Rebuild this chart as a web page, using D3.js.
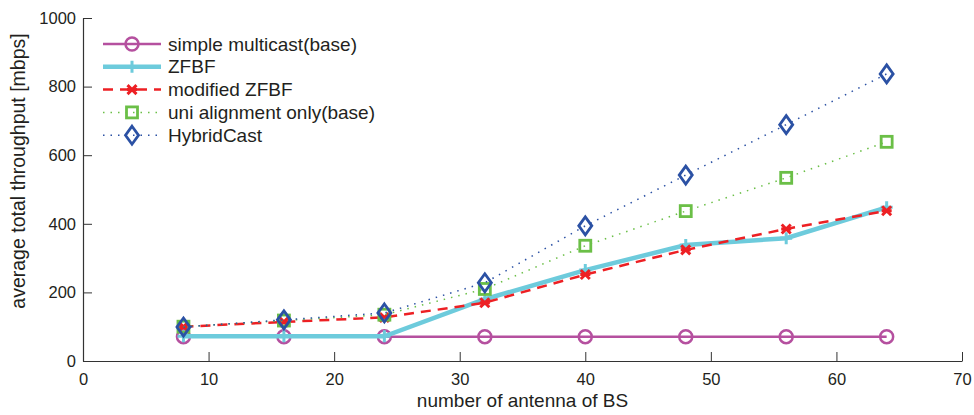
<!DOCTYPE html>
<html>
<head>
<meta charset="utf-8">
<script src="https://cdn.jsdelivr.net/npm/d3@7"></script>
<style>
  body { margin: 0; background: #fff; }
  text { font-family: "Liberation Sans", Arial, sans-serif; fill: #231f20; }
</style>
</head>
<body>
<div id="container"></div>
<script>
/* CONSTANTS AND GLOBALS */
const width = 974,
  height = 415,
  margin = { top: 18, bottom: 54, left: 83, right: 12 };

// DATA
const antennas = [8, 16, 24, 32, 40, 48, 56, 64];
const simpleMulticast = [71, 71, 71, 71, 71, 71, 71, 71];
const zfbf = [72, 72, 72, 180, 265, 338, 358, 448];
const modifiedZfbf = [100, 114, 127, 170, 252, 324, 385, 438];
const uniAlignment = [100, 118, 135, 210, 336, 437, 534, 639];
const hybridCast = [99, 120, 140, 228, 394, 542, 689, 837];
const xTicks = [0, 10, 20, 30, 40, 50, 60, 70];
const yTicks = [0, 200, 400, 600, 800, 1000];

const series = [
  { name: "simple multicast(base)", values: simpleMulticast, color: "#b5509f", width: 2.5, dash: null, marker: "circle" },
  { name: "ZFBF", values: zfbf, color: "#6dcbdc", width: 4.5, dash: null, marker: "plus" },
  { name: "modified ZFBF", values: modifiedZfbf, color: "#ed2024", width: 2.5, dash: "10,7", marker: "cross" },
  { name: "uni alignment only(base)", values: uniAlignment, color: "#6bbf47", width: 1.5, dash: "1.5,6", marker: "square" },
  { name: "HybridCast", values: hybridCast, color: "#2b51a4", width: 1.5, dash: "1.5,6", marker: "diamond" },
];

// APPEND SVG
const svg = d3.select("#container")
  .append("svg")
  .attr("width", width)
  .attr("height", height);

// SCALES
const x = d3.scaleLinear().domain([0, 70]).range([margin.left, width - margin.right]);
const y = d3.scaleLinear().domain([0, 1000]).range([height - margin.bottom, margin.top]);

// AXES (ticks pointing inward, like matlab)
const xAxis = svg.append("g")
  .attr("transform", `translate(0, ${y(0)})`)
  .call(d3.axisBottom(x).tickValues(xTicks).tickFormat(d3.format("d"))
    .tickSizeInner(-9).tickSizeOuter(0).tickPadding(12));
const yAxis = svg.append("g")
  .attr("transform", `translate(${x(0)}, 0)`)
  .call(d3.axisLeft(y).tickValues(yTicks).tickFormat(d3.format("d"))
    .tickSizeInner(-9).tickSizeOuter(0).tickPadding(7));

[xAxis, yAxis].forEach(g => {
  g.select(".domain").attr("stroke", "#333").attr("stroke-width", 1.2);
  g.selectAll(".tick line").attr("stroke", "#333");
  g.selectAll(".tick text").attr("font-size", 16.5).attr("fill", "#231f20")
    .attr("font-family", "Liberation Sans, Arial, sans-serif");
});

// AXIS LABELS
svg.append("text")
  .attr("x", (x(0) + x(70)) / 2)
  .attr("y", 407)
  .attr("text-anchor", "middle")
  .attr("font-size", 19)
  .text("number of antenna of BS");

svg.append("text")
  .attr("transform", `translate(25, ${(y(0) + y(1000)) / 2 - 18.5}) rotate(-90)`)
  .attr("text-anchor", "middle")
  .attr("font-size", 19.5)
  .text("average total throughput [mbps]");

// MARKERS
function drawMarker(g, type, color) {
  if (type === "circle") {
    g.append("circle").attr("r", 6.5).attr("fill", "none").attr("stroke", color).attr("stroke-width", 2.5);
  } else if (type === "plus") {
    g.append("path").attr("d", "M-6,0H6M0,-6V6").attr("stroke", color).attr("stroke-width", 3);
  } else if (type === "cross") {
    g.append("path").attr("d", "M-4.5,-4.5L4.5,4.5M-4.5,4.5L4.5,-4.5M-5,0H5").attr("stroke", color).attr("stroke-width", 3);
  } else if (type === "square") {
    g.append("rect").attr("x", -5.5).attr("y", -5.5).attr("width", 11).attr("height", 11)
      .attr("fill", "none").attr("stroke", color).attr("stroke-width", 2.8);
  } else if (type === "diamond") {
    g.append("path").attr("d", "M0,-9L6.5,0L0,9L-6.5,0Z")
      .attr("fill", "none").attr("stroke", color).attr("stroke-width", 2.8);
  }
}

const line = d3.line().x((d, i) => x(antennas[i])).y(d => y(d));

series.forEach(s => {
  svg.append("path")
    .datum(s.values)
    .attr("d", line)
    .attr("fill", "none")
    .attr("stroke", s.color)
    .attr("stroke-width", s.width)
    .attr("stroke-dasharray", s.dash);
  s.values.forEach((v, i) => {
    const g = svg.append("g").attr("transform", `translate(${x(antennas[i])}, ${y(v)})`);
    drawMarker(g, s.marker, s.color);
  });
});

// LEGEND
const legend = svg.append("g").attr("transform", "translate(103, 44)");
series.forEach((s, i) => {
  const row = legend.append("g").attr("transform", `translate(0, ${i * 22.8})`);
  row.append("line")
    .attr("x1", 0).attr("x2", 58)
    .attr("stroke", s.color)
    .attr("stroke-width", s.width)
    .attr("stroke-dasharray", s.dash);
  drawMarker(row.append("g").attr("transform", "translate(29, 0)"), s.marker, s.color);
  row.append("text")
    .attr("x", 65)
    .attr("y", 6.5)
    .attr("font-size", 19)
    .text(s.name);
});
</script>
</body>
</html>
